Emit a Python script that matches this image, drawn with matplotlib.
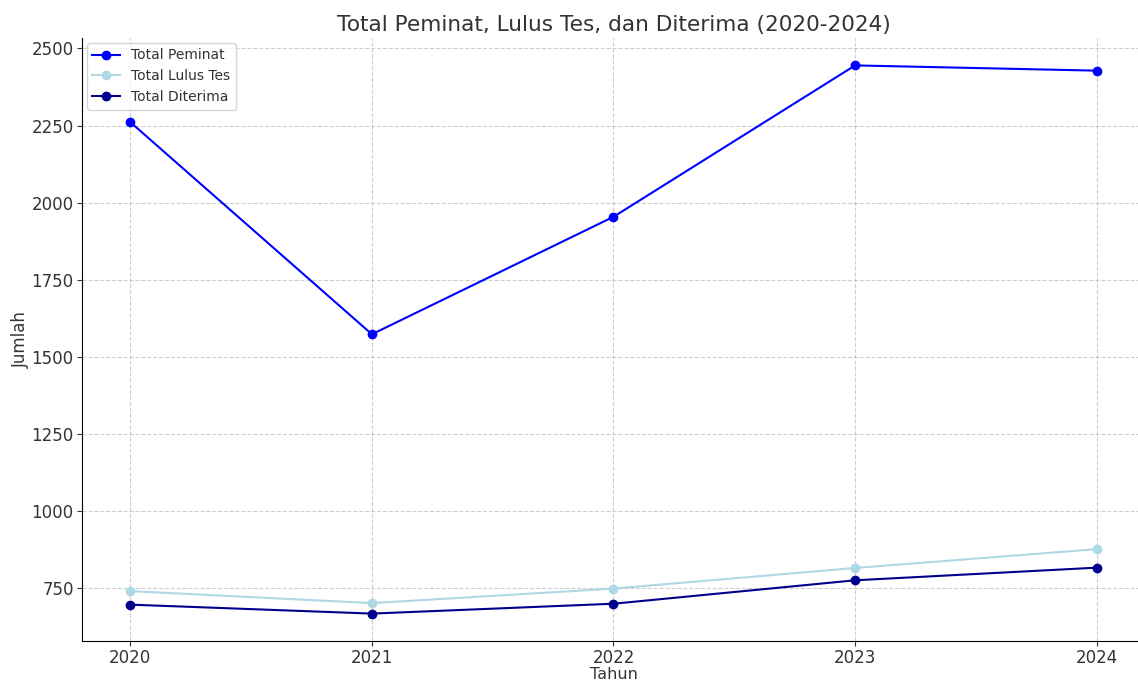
import matplotlib
matplotlib.use("Agg")
import matplotlib.pyplot as plt

# Data
tahun = [2020, 2021, 2022, 2023, 2024]
total_peminat = [2261, 1573, 1954, 2445, 2428]
total_lulus_tes = [740, 701, 748, 815, 876]
total_diterima = [696, 667, 699, 775, 816]

plt.rcParams['text.color'] = '#333333'
plt.rcParams['axes.labelcolor'] = '#333333'
plt.rcParams['xtick.color'] = '#333333'
plt.rcParams['ytick.color'] = '#333333'

fig = plt.figure(figsize=(11.38, 6.83), dpi=100)
ax = fig.add_axes([82 / 1138, 1 - 641 / 683, (1145 - 82) / 1138, (641 - 38) / 683])

ax.plot(tahun, total_peminat, marker='o', color='blue', label='Total Peminat')
ax.plot(tahun, total_lulus_tes, marker='o', color='lightblue', label='Total Lulus Tes')
ax.plot(tahun, total_diterima, marker='o', color='darkblue', label='Total Diterima')

ax.set_title("Total Peminat, Lulus Tes, dan Diterima (2020-2024)", fontsize=15.6, pad=5)
ax.set_xlabel("Tahun", fontsize=11.5, labelpad=0)
ax.set_ylabel("Jumlah", fontsize=12, labelpad=1)
ax.set_xticks(tahun)
ax.tick_params(labelsize=12, pad=2.5)
ax.grid(True, linestyle='--', alpha=0.6)
ax.spines['top'].set_visible(False)
ax.spines['right'].set_visible(False)
ax.legend(loc='upper left', fontsize=10, borderaxespad=0.35)

fig.savefig("out.png", dpi=100)
